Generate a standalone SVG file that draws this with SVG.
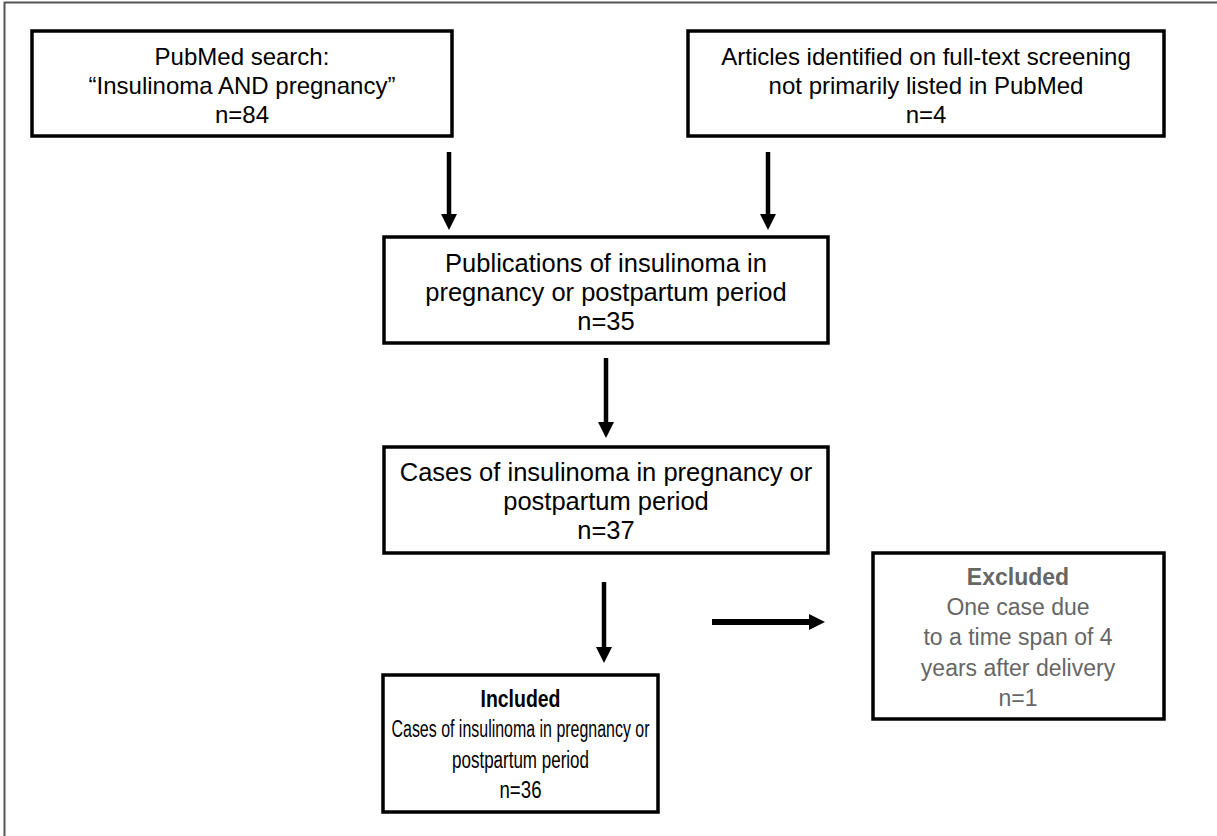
<svg xmlns="http://www.w3.org/2000/svg" width="1217" height="836" viewBox="0 0 1217 836">
<defs>
<marker id="ah" viewBox="0 0 16 16" markerWidth="16" markerHeight="16" refX="1" refY="8" orient="auto" markerUnits="userSpaceOnUse">
<path d="M0,0 L16,8 L0,16 Z" fill="#000"/>
</marker>
</defs>
<style>
.box{fill:#fff;stroke:#000;stroke-width:3.5}
.t{font-family:"Liberation Sans",Arial,sans-serif;font-size:24px;fill:#000;text-anchor:middle}
.m{font-size:25.5px}
.x{font-size:23px;fill:#666}
.i{font-size:23.5px}
.b{font-weight:bold}
.c{stroke:#000;stroke-width:4.5;fill:none;marker-end:url(#ah)}
.h{stroke-width:6}
</style>
<rect width="1217" height="836" fill="#fff"/>
<path d="M4.5,836 V2.5 H1217" fill="none" stroke="#555" stroke-width="2"/>
<g id="n1">
<rect class="box" x="32" y="31" width="420" height="105"/>
<text class="t" x="242" y="65">PubMed search:</text>
<text class="t" x="242" y="94">“Insulinoma AND pregnancy”</text>
<text class="t" x="242" y="123">n=84</text>
</g>
<g id="n2">
<rect class="box" x="688" y="31" width="476" height="105"/>
<text class="t" x="926" y="65">Articles identified on full-text screening</text>
<text class="t" x="926" y="94">not primarily listed in PubMed</text>
<text class="t" x="926" y="123">n=4</text>
</g>
<g id="n3">
<rect class="box" x="384" y="237" width="444" height="106"/>
<text class="t m" x="606" y="272">Publications of insulinoma in</text>
<text class="t m" x="606" y="301">pregnancy or postpartum period</text>
<text class="t m" x="606" y="330">n=35</text>
</g>
<g id="n4">
<rect class="box" x="384" y="447" width="444" height="106"/>
<text class="t m" x="606" y="481">Cases of insulinoma in pregnancy or</text>
<text class="t m" x="606" y="510">postpartum period</text>
<text class="t m" x="606" y="539">n=37</text>
</g>
<g id="n5">
<rect class="box" x="873" y="553" width="291" height="166"/>
<text class="t x b" x="1018" y="585">Excluded</text>
<text class="t x" x="1018" y="615">One case due</text>
<text class="t x" x="1018" y="645">to a time span of 4</text>
<text class="t x" x="1018" y="676">years after delivery</text>
<text class="t x" x="1018" y="706">n=1</text>
</g>
<g id="n6">
<rect class="box" x="383" y="675" width="275" height="137"/>
<text class="t i b" x="520.5" y="707" textLength="80" lengthAdjust="spacingAndGlyphs">Included</text>
<text class="t i" x="520.5" y="737" textLength="258" lengthAdjust="spacingAndGlyphs">Cases of insulinoma in pregnancy or</text>
<text class="t i" x="520.5" y="768" textLength="137" lengthAdjust="spacingAndGlyphs">postpartum period</text>
<text class="t i" x="520.5" y="798" textLength="42" lengthAdjust="spacingAndGlyphs">n=36</text>
</g>
<g id="connectors">
<line class="c" x1="449" y1="152" x2="449" y2="215"/>
<line class="c" x1="768" y1="152" x2="768" y2="215"/>
<line class="c" x1="606" y1="358" x2="606" y2="423"/>
<line class="c" x1="604" y1="582" x2="604" y2="648"/>
<line class="c h" x1="712" y1="622" x2="810" y2="622"/>
</g>
</svg>
